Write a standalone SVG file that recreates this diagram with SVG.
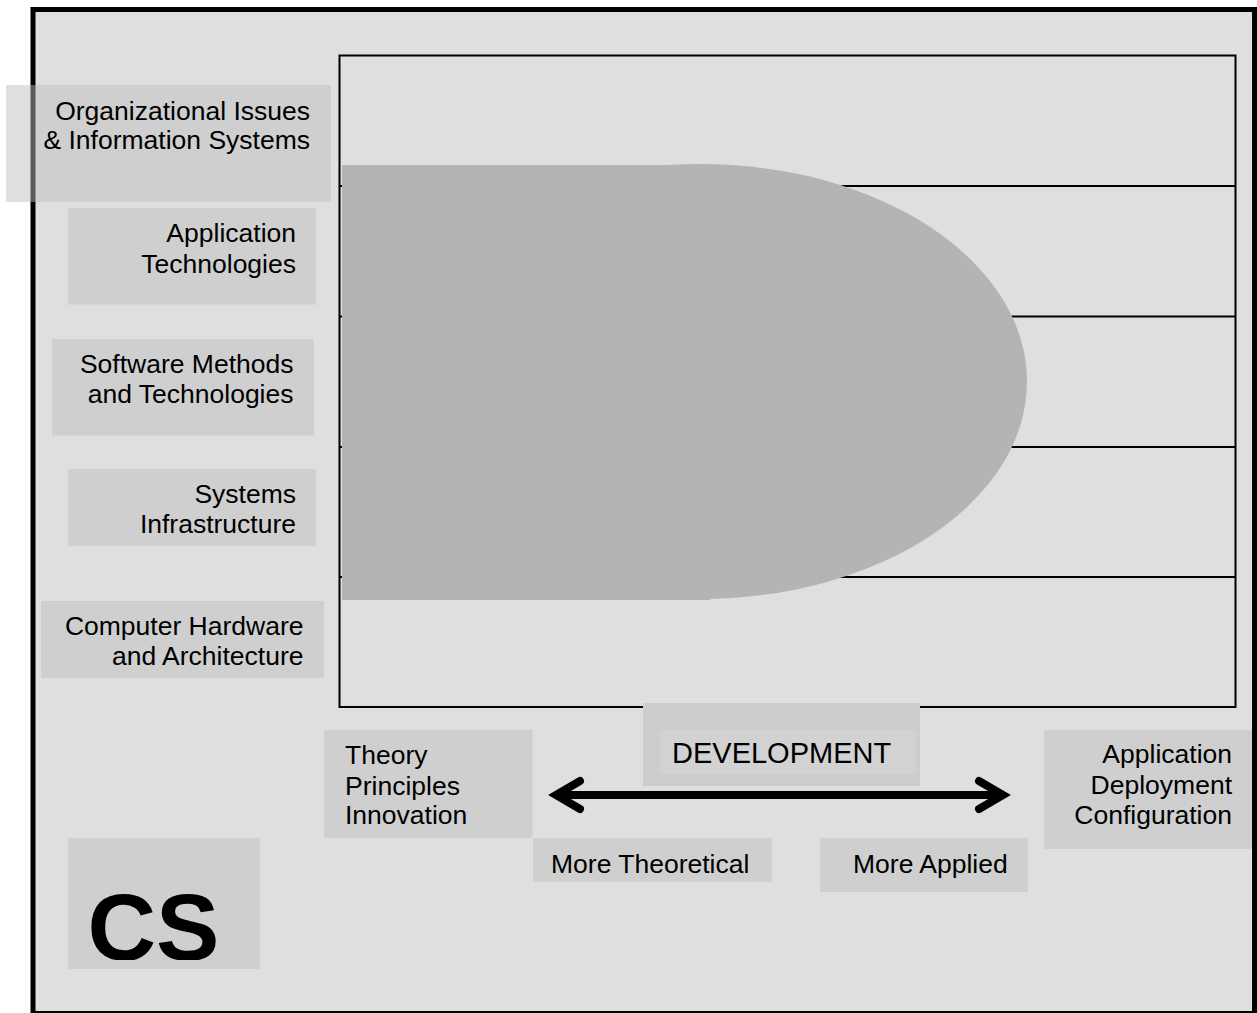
<svg xmlns="http://www.w3.org/2000/svg" width="1257" height="1013" viewBox="0 0 1257 1013">
  <defs>
    <style>
      .t { font-family: "Liberation Sans", Arial, Helvetica, sans-serif; font-size: 26.5px; fill: #000; }
      .end { text-anchor: end; }
      .lbl { fill: rgb(189,189,189); fill-opacity: 0.47; }
      .band { stroke: #000; stroke-width: 2; }
      .arrow { fill: none; stroke: #000; stroke-width: 8; }
    </style>
    <clipPath id="csclip">
      <rect x="60" y="830" width="220" height="130"/>
    </clipPath>
  </defs>

  <rect x="0" y="0" width="1257" height="1013" fill="#ffffff"/>

  <g id="frame">
    <rect x="33" y="9.5" width="1221.5" height="1004" fill="#dfdfdf" stroke="#000" stroke-width="5"/>
  </g>

  <g id="chart">
    <rect x="339.5" y="55.5" width="896" height="651.5" fill="none" stroke="#000" stroke-width="2"/>
    <line class="band" x1="340" y1="186" x2="1235" y2="186"/>
    <line class="band" x1="340" y1="316.5" x2="1235" y2="316.5"/>
    <line class="band" x1="340" y1="447" x2="1235" y2="447"/>
    <line class="band" x1="340" y1="577" x2="1235" y2="577"/>
    <g id="cs-region">
      <ellipse cx="700" cy="381.5" rx="327" ry="217.5" fill="#b4b4b4"/>
      <rect x="342" y="165" width="368" height="435" fill="#b4b4b4"/>
    </g>
  </g>

  <g id="org-issues">
    <rect class="lbl" x="6" y="85" width="325" height="117"/>
    <text class="t end" x="310" y="120">Organizational Issues</text>
    <text class="t end" x="310" y="149.3">&amp; Information Systems</text>
  </g>

  <g id="app-tech">
    <rect class="lbl" x="68" y="208" width="248" height="96.5"/>
    <text class="t end" x="296" y="241.7">Application</text>
    <text class="t end" x="296" y="272.7">Technologies</text>
  </g>

  <g id="software">
    <rect class="lbl" x="52" y="339" width="262" height="96.5"/>
    <text class="t end" x="293.5" y="372.7">Software Methods</text>
    <text class="t end" x="293.5" y="403.3">and Technologies</text>
  </g>

  <g id="systems">
    <rect class="lbl" x="68" y="469" width="248" height="77"/>
    <text class="t end" x="296" y="503.3">Systems</text>
    <text class="t end" x="296" y="533.3">Infrastructure</text>
  </g>

  <g id="hardware">
    <rect class="lbl" x="41" y="601" width="283" height="77"/>
    <text class="t end" x="303.5" y="635">Computer Hardware</text>
    <text class="t end" x="303.5" y="665">and Architecture</text>
  </g>

  <g id="development">
    <rect x="643" y="703" width="277" height="83" fill="#cdcdcd"/>
    <rect x="660" y="730" width="256" height="44" fill="#d2d2d2"/>
    <text class="t" x="672" y="763" style="font-size:29px">DEVELOPMENT</text>
  </g>

  <g id="theory">
    <rect class="lbl" x="324" y="730" width="208.5" height="108"/>
    <text class="t" x="345" y="764">Theory</text>
    <text class="t" x="345" y="795">Principles</text>
    <text class="t" x="345" y="824.3">Innovation</text>
  </g>

  <g id="application">
    <rect class="lbl" x="1044" y="730" width="208" height="119"/>
    <text class="t end" x="1232" y="763">Application</text>
    <text class="t end" x="1232" y="794">Deployment</text>
    <text class="t end" x="1232" y="824">Configuration</text>
  </g>

  <g id="more-theoretical">
    <rect class="lbl" x="533" y="838" width="239" height="44"/>
    <text class="t" x="551" y="872.5">More Theoretical</text>
  </g>

  <g id="more-applied">
    <rect class="lbl" x="820" y="838" width="208" height="54"/>
    <text class="t" x="853" y="872.5">More Applied</text>
  </g>

  <g id="cs">
    <rect class="lbl" x="68" y="838" width="192" height="131"/>
    <text x="87.5" y="960" clip-path="url(#csclip)" style="font-family:'Liberation Sans', Arial, Helvetica, sans-serif; font-size:95px; font-weight:bold; fill:#000">CS</text>
  </g>

  <g id="connectors">
    <line class="arrow" x1="556" y1="795" x2="1003" y2="795"/>
    <path class="arrow" d="M580,781 L556,795 L580,809" stroke-linecap="round" stroke-linejoin="miter"/>
    <path class="arrow" d="M979,781 L1003,795 L979,809" stroke-linecap="round" stroke-linejoin="miter"/>
  </g>
</svg>
